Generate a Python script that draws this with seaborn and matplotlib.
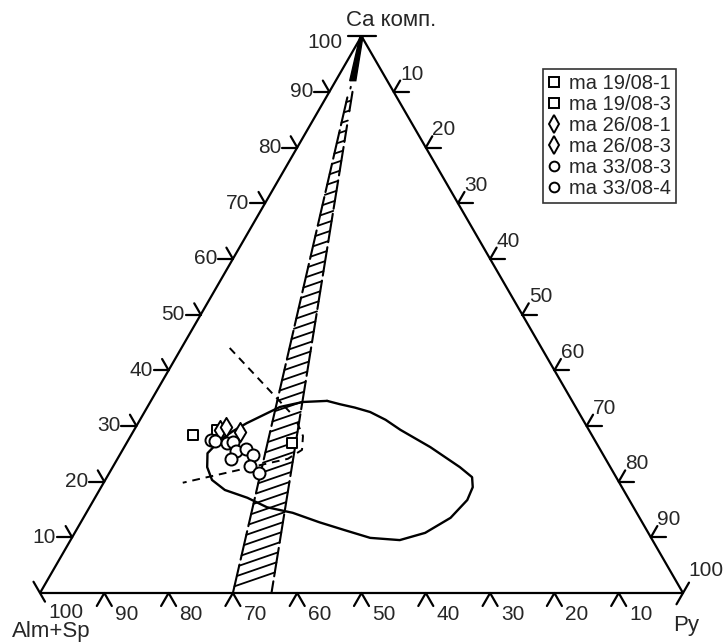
import numpy as np
import pandas as pd
import matplotlib
matplotlib.use("Agg")
import matplotlib.pyplot as plt
import seaborn as sns
from matplotlib.lines import Line2D

sns.set_theme(style="white")
plt.rcParams['font.family'] = ['Liberation Sans', 'DejaVu Sans']

# Axis names and tick values (percent)
APEX_LABEL = "Ca комп."
LEFT_LABEL = "Alm+Sp"
RIGHT_LABEL = "Py"
TICKS = [10, 20, 30, 40, 50, 60, 70, 80, 90]

# Garnet analyses, Ca comp. and Py in percent (Alm+Sp = rest)
sq1_ca = [28.4, 29.3]
sq1_py = [9.6, 12.8]
sq3_ca = [26.9]
sq3_py = [25.8]
di1_ca = [29.3, 29.8]
di1_py = [13.4, 14.0]
di3_ca = [28.9]
di3_py = [16.6]
ci3_ca = [27.5, 27.3, 26.9, 27.1, 25.5]
ci3_py = [12.9, 13.6, 15.6, 16.4, 17.7]
ci4_ca = [25.9, 24.8, 24.1, 22.8, 21.5]
ci4_py = [19.1, 20.7, 17.7, 21.3, 23.3]

# Closed field outline
field_ca = [34.5, 33.9, 33.3, 32.5, 31.1, 29.3, 26.2, 22.6, 20.8, 19.0, 16.7, 13.5, 10.8, 9.5,
            9.9, 11.3, 12.7, 14.4, 15.4, 17.1, 18.5, 20.3, 22.6, 25.1, 27.5, 29.1, 30.5, 33.4, 34.3]
field_py = [27.4, 29.7, 32.3, 35.1, 38.2, 41.4, 47.6, 54.0, 56.8, 57.8, 58.1, 57.1, 54.5, 51.2,
            46.4, 41.7, 37.1, 32.1, 27.6, 23.7, 19.5, 16.6, 14.7, 13.5, 14.3, 15.5, 16.9, 20.6, 23.7]

# Dashed boundaries
dash_a_ca = [44.0, 32.5]
dash_a_py = [7.5, 22.6]
dash_b_ca = [30.7, 28.2, 25.7, 24.1, 19.8]
dash_b_py = [24.6, 26.8, 27.9, 26.5, 12.3]

# Hatched band: Py intercepts on the base of its two edges (from Ca apex)
band_left_py = 30.0
band_right_py = 36.0
band_wedge_ca = 92.0
band_top_ca = 90.0

H = np.sqrt(3) / 2


def tern(ca, py):
    ca = np.asarray(ca, dtype=float)
    py = np.asarray(py, dtype=float)
    return py / 100 + ca / 200, ca / 100 * H


def px(d):
    return d / 643.0


def band_edge(base_py, ca):
    ca = np.asarray(ca, dtype=float)
    return tern(ca, base_py / 100 * (100 - ca))


fig = plt.figure(figsize=(7.24, 6.42), dpi=100)
ax = fig.add_axes([0, 0, 1, 1])
ax.set_xlim(-40 / 643, 684 / 643)
ax.set_ylim((593 - 642) / 643, 593 / 643)
ax.axis('off')

lw = 1.6
# triangle
ax.plot([0, 1, 0.5, 0], [0, 0, H, 0], color='black', lw=lw, solid_capstyle='butt')

# ticks
L1, L2 = px(15), px(13)
d60 = np.array([np.cos(np.radians(60)), np.sin(np.radians(60))])
d120 = np.array([-d60[0], d60[1]])
fs = 15
for t in TICKS:
    # left edge (Ca)
    x, y = tern(t, 0)
    ax.plot([x - L1, x], [y, y], color='black', lw=lw)
    ax.plot([x, x + L2 * d120[0]], [y, y + L2 * d120[1]], color='black', lw=lw)
    ax.text(x - L1 - px(1), y, str(t), ha='right', va='center', fontsize=fs)
    # right edge (Py)
    x, y = tern(100 - t, t)
    ax.plot([x, x + L1], [y, y], color='black', lw=lw)
    ax.plot([x, x + L2 * d60[0]], [y, y + L2 * d60[1]], color='black', lw=lw)
    ax.text(x + L2 * d60[0], y + L2 * d60[1] - px(3), str(t), ha='left', va='bottom', fontsize=fs)
    # base (Alm+Sp)
    x, y = tern(0, 100 - t)
    ax.plot([x - L1 * 0.5, x, x + L1 * 0.5], [y - L1 * H, y, y - L1 * H], color='black', lw=lw)
    ax.text(x + px(11), y - px(22), str(t), ha='left', va='center', fontsize=fs)

# vertex ticks and labels
ax.plot([0.5 - px(14), 0.5 + px(15)], [H, H], color='black', lw=lw)
ax.text(0.5 - px(19), H - px(6), "100", ha='right', va='center', fontsize=fs)
ax.text(px(346 - 40), px(593 - 31), APEX_LABEL, ha='left', va='bottom', fontsize=16)

ax.plot([-px(13) * 0.5, px(10) * 0.5], [px(13) * H, -px(10) * H], color='black', lw=lw)
ax.text(px(8), -px(19), "100", ha='left', va='center', fontsize=fs)
ax.text(px(12 - 40), -px(632 - 593), LEFT_LABEL, ha='left', va='center', fontsize=16)

ax.plot([1 + px(12) * 0.5, 1 - px(13) * 0.5], [px(12) * H, -px(13) * H], color='black', lw=lw)
ax.text(1 + px(5), px(13), "100", ha='left', va='bottom', fontsize=fs)
ax.text(1 - px(10), -px(626 - 593), RIGHT_LABEL, ha='left', va='center', fontsize=16)

# hatched band
wl = band_edge(band_left_py, [band_wedge_ca, 100])
wr = band_edge(band_right_py, [100, band_wedge_ca])
ax.fill(np.r_[wl[0] - px(1.5), wr[0] + px(1.5)], np.r_[wl[1], wr[1]], color='black', lw=1)
sx, sy = band_edge(band_left_py, [90.9, 90.6])
ax.plot(sx + px(1), sy, color='black', lw=1.4)

chunk = 6.0
for k, c0 in enumerate(np.arange(0, band_top_ca - 1, chunk)):
    c1 = min(c0 + chunk - 0.9, band_top_ca - 1)
    ex, ey = band_edge(band_left_py, [c0, c1])
    ax.plot(ex, ey, color='black', lw=1.5)
    r0 = c0 + chunk * 0.5
    r1 = min(r0 + chunk - 0.9, band_top_ca)
    ex, ey = band_edge(band_right_py, [max(r0 - chunk, 0), max(r1 - chunk, 0.6)])
    ax.plot(ex, ey, color='black', lw=1.5)
ex, ey = band_edge(band_right_py, [band_top_ca - 3.5, band_top_ca])
ax.plot(ex, ey, color='black', lw=1.5)

for c in np.arange(1.2, band_top_ca - 1.5, 1.85):
    lx, ly = band_edge(band_left_py, c)
    rx, _ = band_edge(band_right_py, c)
    w = rx - lx
    rise = w * np.tan(np.radians(20)) / H * 100
    rx, ry = band_edge(band_right_py, c + rise)
    ax.plot([lx, rx], [ly, ry], color='black', lw=1.3)

# field outline and dashed lines
fx, fy = tern(field_ca + field_ca[:1], field_py + field_py[:1])
sns.lineplot(x=fx, y=fy, sort=False, estimator=None, color='black', lw=1.7, ax=ax)
dx, dy = tern(dash_a_ca, dash_a_py)
ax.plot(dx, dy, color='black', lw=1.4, ls=(0, (4, 3)))
dx, dy = tern(dash_b_ca, dash_b_py)
ax.plot(dx, dy, color='black', lw=1.4, ls=(0, (4, 3)))

# samples
groups = [
    ("ma 19/08-1", sq1_ca, sq1_py, 's', 60),
    ("ma 19/08-3", sq3_ca, sq3_py, 's', 60),
    ("ma 26/08-1", di1_ca, di1_py, 'd', 95),
    ("ma 26/08-3", di3_ca, di3_py, 'd', 95),
    ("ma 33/08-3", ci3_ca, ci3_py, 'o', 75),
    ("ma 33/08-4", ci4_ca, ci4_py, 'o', 75),
]
handles = []
for name, ca, py, m, s in groups:
    x, y = tern(ca, py)
    df = pd.DataFrame({'x': x, 'y': y})
    sns.scatterplot(data=df, x='x', y='y', marker=m, s=s, color='white',
                    edgecolor='black', linewidth=1.4, ax=ax, zorder=5)
    handles.append(Line2D([], [], marker=m, ls='none', markersize=7 if m != 'd' else 9,
                          markerfacecolor='white', markeredgecolor='black',
                          markeredgewidth=1.4, label=name))
ax.set_xlabel('')
ax.set_ylabel('')

leg = ax.legend(handles=handles, loc='upper left', bbox_to_anchor=(543 / 724, 1 - 69 / 642),
                bbox_transform=fig.transFigure, frameon=True, fancybox=False,
                edgecolor='black', fontsize=14.5, handlelength=0.6, handletextpad=0.45,
                borderpad=0.25, labelspacing=0.1, borderaxespad=0)
leg.get_frame().set_linewidth(1.2)

fig.savefig("out.png", dpi=100)
